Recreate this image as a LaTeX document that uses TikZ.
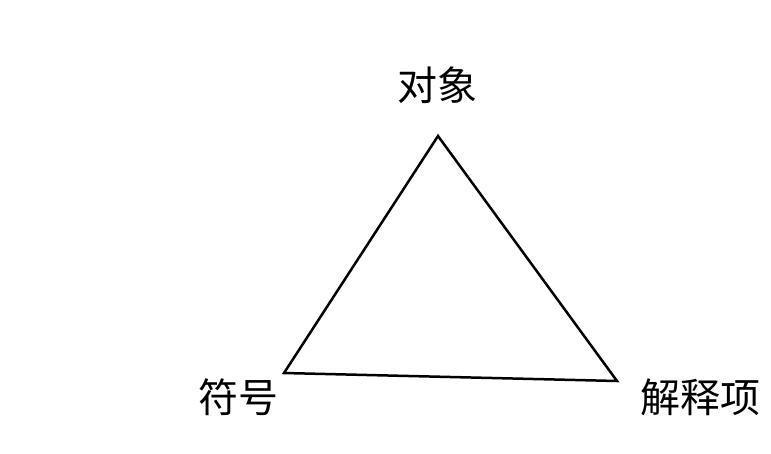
\documentclass[tikz,border=0pt]{standalone}
\usepackage{fontspec}
\newfontfamily\cjk{Noto Sans CJK SC}
\begin{document}
\begin{tikzpicture}[x=1pt,y=-1pt,lbl/.style={font=\cjk\fontsize{40}{44}\selectfont,inner sep=0pt}]
        \useasboundingbox [] (0,0) rectangle (771,453);
        \coordinate (O) at (438,136);
        \coordinate (S) at (284,373);
        \coordinate (I) at (617,381);
        \draw [line width=2.5pt] (O)--(S)--(I)--cycle;
        \node [lbl] (obj) at(437,85) {对象};
        \node [lbl] (sign) at(238,397) {符号};
        \node [lbl] (interp) at(700,397) {解释项};
    \end{tikzpicture}
\end{document}
